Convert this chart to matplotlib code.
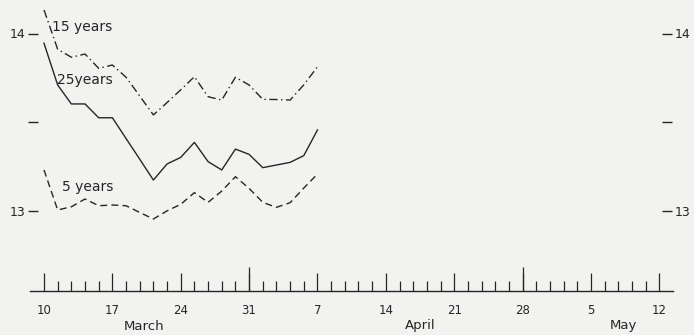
"""Yield curves for 5, 15 and 25 year maturities, March to May."""

import matplotlib

matplotlib.use("Agg")
import matplotlib.pyplot as plt
import numpy as np

# trading days, counted from 10 March (five per week, drawn evenly)
day_offsets = [0.0, 1.4, 2.8, 4.2, 5.6, 7.0, 8.4, 9.8, 11.2, 12.6, 14.0,
               15.4, 16.8, 18.2, 19.6, 21.0, 22.4, 23.8, 25.2, 26.6, 28.0]

yield_15y = [14.133, 13.911, 13.866, 13.884, 13.803, 13.822, 13.753, 13.647,
             13.540, 13.610, 13.682, 13.756, 13.643, 13.624, 13.753, 13.709,
             13.628, 13.627, 13.624, 13.710, 13.812]
yield_25y = [13.945, 13.709, 13.602, 13.602, 13.524, 13.524, 13.407, 13.290,
             13.172, 13.263, 13.300, 13.385, 13.276, 13.229, 13.347, 13.317,
             13.242, 13.257, 13.272, 13.310, 13.455]
yield_5y = [13.229, 13.003, 13.021, 13.065, 13.027, 13.031, 13.027, 12.989,
            12.952, 12.998, 13.035, 13.101, 13.046, 13.110, 13.191, 13.125,
            13.046, 13.018, 13.044, 13.127, 13.206]

week_days = [0, 7, 14, 21, 28, 35, 42, 49, 56, 63]
week_labels = ["10", "17", "24", "31", "7", "14", "21", "28", "5", "12"]
long_tick_days = [21, 49]
months = [("March", 10.2), ("April", 38.5), ("May", 59.3)]

y_ticks = [13, 13.5, 14]
y_tick_labels = ["13", "", "14"]

INK = "#262626"
PAPER = "#f2f2f0"
PX_PER_DAY = 9.767
X0_PX = 44.0
W, H = 694, 335

plt.rcParams.update({"font.family": "DejaVu Sans", "text.color": INK})

fig = plt.figure(figsize=(W / 100, H / 100), dpi=100, facecolor=PAPER)


def day_at(px):
    return (px - X0_PX) / PX_PER_DAY


# main panel
ax = fig.add_axes([38 / W, (H - 240) / H, (662 - 38) / W, 240 / H])
ax.set_facecolor("none")
ax.set_xlim(day_at(38), day_at(662))
ax.set_ylim(14 - (240 - 33.5) / 177, 14 + 33.5 / 177)
for s in ax.spines.values():
    s.set_visible(False)
ax.set_xticks([])
ax.set_yticks(y_ticks)
ax.set_yticklabels(y_tick_labels)
ax.tick_params(axis="y", left=True, right=True, labelleft=True, labelright=True,
               direction="out", length=7.2, width=1.0, color=INK,
               labelsize=9, labelcolor=INK, pad=2)

ax.plot(day_offsets, yield_15y, color=INK, lw=1.0, dashes=(6, 2.5, 1, 2.5))
ax.plot(day_offsets, yield_25y, color=INK, lw=1.0)
ax.plot(day_offsets, yield_5y, color=INK, lw=1.0, dashes=(5, 3))

ax.text(day_at(52), 14 - (27 - 33.5) / 177, "15 years", fontsize=10, va="center")
ax.text(day_at(57), 14 - (80 - 33.5) / 177, "25years", fontsize=10, va="center")
ax.text(day_at(62), 14 - (187 - 33.5) / 177, "5 years", fontsize=10, va="center")

# time scale
axis_px = 291
tax_h = 20
tax = fig.add_axes([30 / W, (H - axis_px) / H, (672.7 - 30) / W, tax_h / H])
tax.set_facecolor("none")
tax.set_xlim(day_at(30), day_at(672.7))
tax.set_ylim(0, 1)
for name, s in tax.spines.items():
    s.set_visible(name == "bottom")
tax.spines["bottom"].set_color(INK)
tax.spines["bottom"].set_linewidth(1.0)
tax.set_yticks([])
tax.set_xticks(week_days)
tax.set_xticklabels(week_labels)
tax.set_xticks(np.arange(0, 63.01, 1.4), minor=True)
tax.tick_params(axis="x", which="major", direction="in", length=13, width=0.9,
                color=INK, labelsize=8.5, labelcolor=INK, pad=9)
tax.tick_params(axis="x", which="minor", direction="in", length=7.2, width=0.9,
                color=INK)
tax.vlines(long_tick_days, 0, 24 / tax_h, color=INK, lw=0.9,
           transform=tax.get_xaxis_transform(), clip_on=False)

for name, day in months:
    tax.text(day, -(326 - axis_px) / tax_h, name, fontsize=9.5, ha="center",
             va="center", transform=tax.get_xaxis_transform())

fig.savefig("out.png", dpi=100, facecolor=PAPER)
